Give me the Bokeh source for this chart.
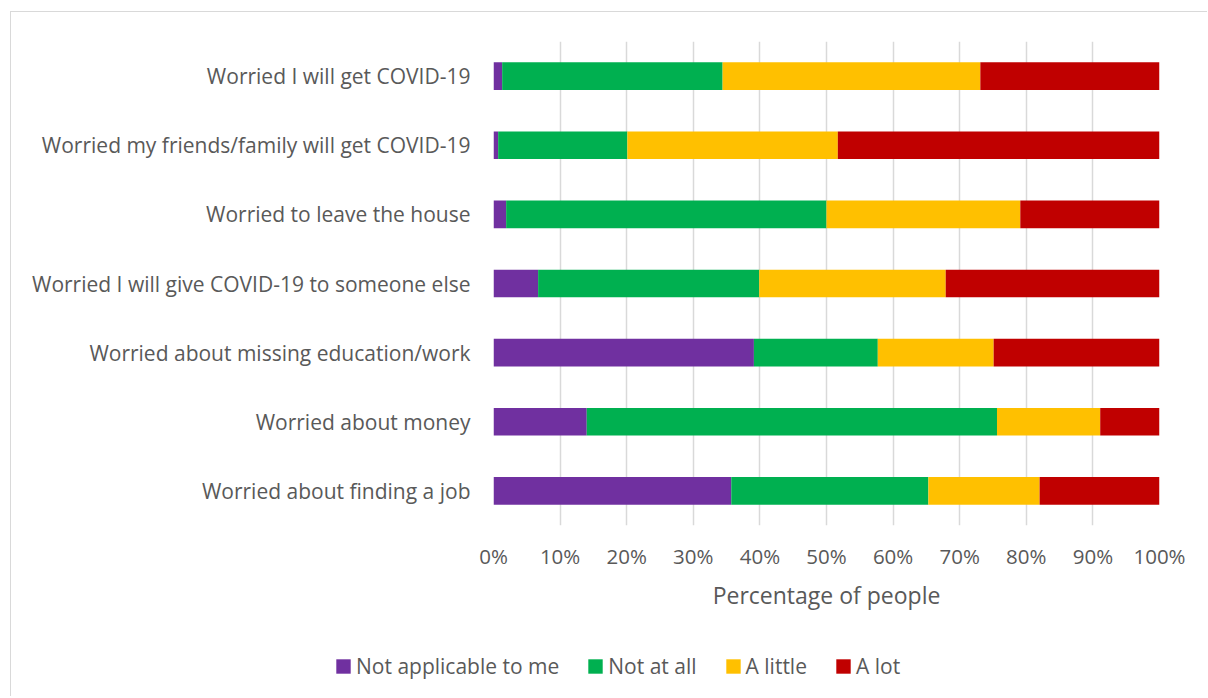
from bokeh.plotting import figure
from bokeh.layouts import column
from bokeh.models import (ColumnDataSource, FactorRange, Range1d, FixedTicker,
                          PrintfTickFormatter, Legend, LegendItem)
from bokeh.embed import file_html
from bokeh.resources import INLINE

categories = [
    "Worried I will get COVID-19",
    "Worried my friends/family will get COVID-19",
    "Worried to leave the house",
    "Worried I will give COVID-19 to someone else",
    "Worried about missing education/work",
    "Worried about money",
    "Worried about finding a job",
]
not_applicable = [1.3, 0.7, 1.9, 6.7, 39.1, 14.0, 35.7]
not_at_all = [33.1, 19.4, 48.1, 33.2, 18.6, 61.6, 29.6]
a_little = [38.7, 31.6, 29.1, 28.0, 17.4, 15.5, 16.7]
a_lot = [26.9, 48.3, 20.9, 32.1, 24.9, 8.9, 18.0]

series_names = ["Not applicable to me", "Not at all", "A little", "A lot"]
series_keys = ["na", "naa", "little", "lot"]
colors = ["#7030A0", "#00B050", "#FFC000", "#C00000"]
x_ticks = [0, 10, 20, 30, 40, 50, 60, 70, 80, 90, 100]
x_label = "Percentage of people"

FONT = "Open Sans"
TXT = "#595959"

source = ColumnDataSource(dict(cat=categories, na=not_applicable, naa=not_at_all,
                               little=a_little, lot=a_lot))

p = figure(y_range=FactorRange(*categories[::-1]), x_range=Range1d(0, 100),
           width=1196, height=630, output_backend="svg", toolbar_location=None,
           min_border_left=482, min_border_right=48, min_border_top=29,
           min_border_bottom=117)
p.frame_align = False

renderers = p.hbar_stack(series_keys, y="cat", height=0.4, color=colors,
                         line_color=None, source=source)

p.outline_line_color = None
p.ygrid.grid_line_color = None
p.xgrid.grid_line_color = "#d9d9d9"
p.xgrid.grid_line_width = 1.5
p.xgrid.ticker = FixedTicker(ticks=x_ticks)

xa = p.xaxis[0]
xa.ticker = FixedTicker(ticks=x_ticks)
xa.formatter = PrintfTickFormatter(format="%d%%")
xa.axis_line_color = None
xa.major_tick_line_color = None
xa.minor_tick_line_color = None
xa.major_tick_out = 0
xa.major_label_standoff = 16
xa.major_label_text_font = FONT
xa.major_label_text_font_size = "20.5px"
xa.major_label_text_color = TXT
xa.axis_label = x_label
xa.axis_label_text_font = FONT
xa.axis_label_text_font_size = "23px"
xa.axis_label_text_font_style = "normal"
xa.axis_label_text_color = TXT
xa.axis_label_standoff = 6

ya = p.yaxis[0]
ya.axis_line_color = None
ya.major_tick_line_color = None
ya.minor_tick_line_color = None
ya.major_tick_out = 0
ya.major_label_standoff = 23
ya.major_label_text_font = FONT
ya.major_label_text_font_size = "21px"
ya.major_label_text_color = TXT

# legend strip below the chart (its swatch renderers lie outside the visible range)
pl = figure(width=1196, height=54, output_backend="svg", toolbar_location=None,
            x_range=Range1d(0, 1), y_range=Range1d(0, 1),
            x_axis_type=None, y_axis_type=None,
            min_border_left=0, min_border_right=0, min_border_top=0, min_border_bottom=0)
pl.frame_align = False
pl.outline_line_color = None
pl.xgrid.visible = False
pl.ygrid.visible = False
legend_renderers = [pl.hbar(y=[5], left=[5], right=[6], height=0.4, color=c, line_color=None)
                    for c in colors]

legend = Legend(items=[LegendItem(label=n, renderers=[r]) for n, r in zip(series_names, legend_renderers)],
                orientation="horizontal", location=(323, 16))
legend.padding = 0
legend.margin = 0
legend.spacing = 27
legend.glyph_width = 18
legend.glyph_height = 18
legend.label_standoff = 4
legend.label_text_font = FONT
legend.label_text_font_size = "21px"
legend.label_text_color = TXT
legend.border_line_color = None
legend.background_fill_alpha = 0
pl.add_layout(legend, "center")

layout = column(p, pl, spacing=0)
layout.margin = (11, 0, 0, 10)
layout.styles = {"border-top": "1px solid #d9d9d9", "border-left": "1px solid #d9d9d9"}

open("out.html", "w").write(file_html(layout, INLINE))
